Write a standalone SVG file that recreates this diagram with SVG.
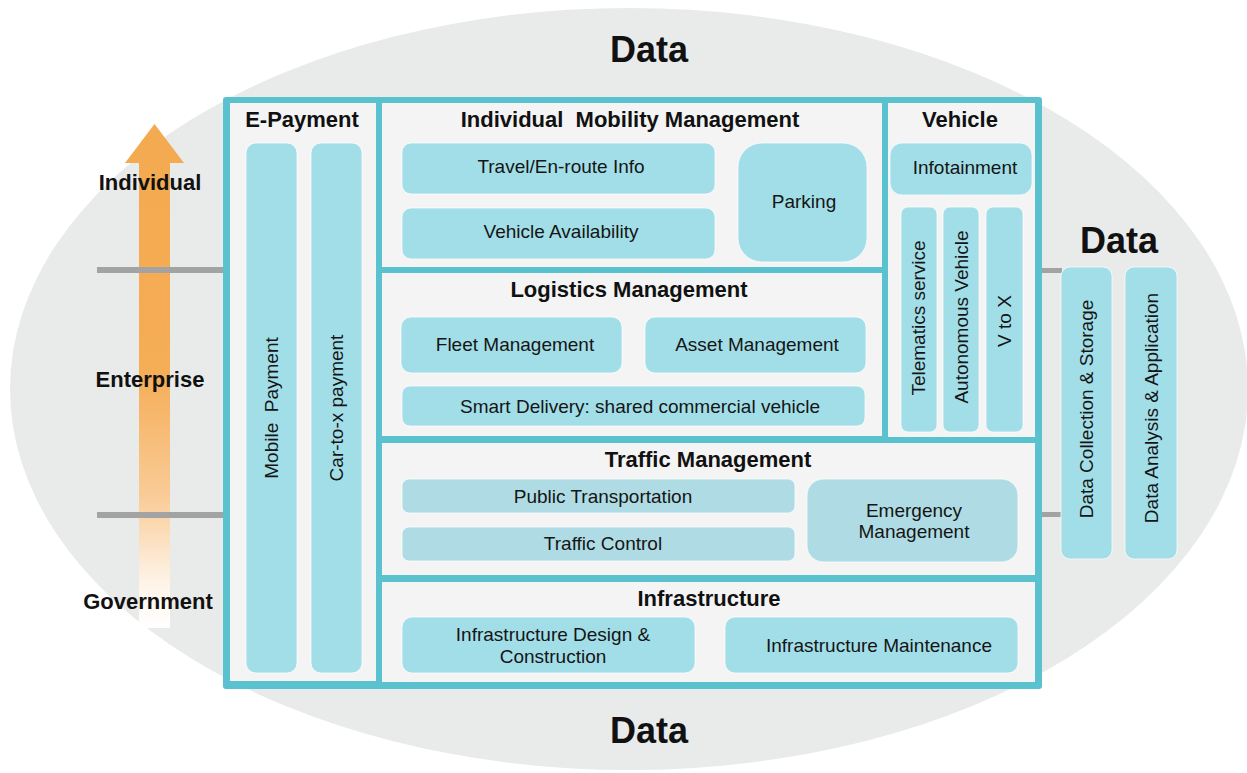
<svg xmlns="http://www.w3.org/2000/svg" width="1247" height="773" viewBox="0 0 1247 773">
<defs>
<linearGradient id="shaftGrad" x1="0" y1="162" x2="0" y2="628" gradientUnits="userSpaceOnUse">
<stop offset="0" stop-color="#f4aa50"/>
<stop offset="0.45" stop-color="#f5ad56"/>
<stop offset="0.72" stop-color="#f9cc98"/>
<stop offset="0.9" stop-color="#fef3e7"/>
<stop offset="1" stop-color="#ffffff"/>
</linearGradient>
<style>
.panel{fill:#f4f4f4;}
.box{fill:#a2dee8;stroke:#ffffff;stroke-width:1;stroke-opacity:0.7;}
.tbox{fill:#afdce4;stroke:#ffffff;stroke-width:1;stroke-opacity:0.7;}
.t{font-family:"Liberation Sans",Arial,sans-serif;font-size:19px;fill:#151515;text-anchor:middle;white-space:pre;}
.h{font-family:"Liberation Sans",Arial,sans-serif;font-size:22px;font-weight:bold;fill:#111111;text-anchor:middle;white-space:pre;}
.big{font-family:"Liberation Sans",Arial,sans-serif;font-size:36px;font-weight:bold;fill:#111111;text-anchor:middle;}
.lvl{fill:#a3a3a3;}
</style>
</defs>
<rect x="0" y="0" width="1247" height="773" fill="#ffffff"/>
<ellipse cx="629" cy="389" rx="619" ry="381" fill="#e9eaea"/>

<g id="arrow">
<rect x="139" y="162" width="31" height="466" fill="url(#shaftGrad)"/>
<polygon points="125,163 154.5,124 184,163" fill="#f4aa50"/>
</g>

<g id="connectors">
<rect class="lvl" x="97" y="267" width="127" height="6"/>
<rect class="lvl" x="97" y="512" width="127" height="6"/>
<rect class="lvl" x="1040" y="268" width="22" height="5"/>
<rect class="lvl" x="1040" y="512" width="22" height="5"/>
</g>

<g id="levels">
<text class="h" x="150" y="190">Individual</text>
<text class="h" x="150" y="387">Enterprise</text>
<text class="h" x="148" y="609">Government</text>
</g>

<g id="data-labels">
<text class="big" x="649" y="62">Data</text>
<text class="big" x="1119" y="253">Data</text>
<text class="big" x="649" y="743">Data</text>
</g>

<g id="frame">
<rect x="223" y="97" width="819" height="592" rx="3" fill="#5ac1cf"/>
</g>

<g id="e-payment">
<rect class="panel" x="230" y="103" width="146" height="578"/>
<text class="h" x="302" y="127">E-Payment</text>
<rect class="box" x="246" y="143" width="51" height="530" rx="10"/>
<rect class="box" x="311" y="143" width="51" height="530" rx="10"/>
<text class="t" transform="translate(271,408) rotate(-90)" dy="0.35em" xml:space="preserve">Mobile  Payment</text>
<text class="t" transform="translate(336,408) rotate(-90)" dy="0.35em">Car-to-x payment</text>
</g>

<g id="individual-mobility">
<rect class="panel" x="382" y="103" width="500" height="164"/>
<text class="h" x="630" y="127" xml:space="preserve">Individual  Mobility Management</text>
<rect class="box" x="402" y="143" width="313" height="51" rx="9"/>
<text class="t" x="561" y="173">Travel/En-route Info</text>
<rect class="box" x="402" y="208" width="313" height="51" rx="9"/>
<text class="t" x="561" y="238">Vehicle Availability</text>
<rect class="box" x="738" y="143" width="129" height="119" rx="24"/>
<text class="t" x="804" y="208">Parking</text>
</g>

<g id="logistics">
<rect class="panel" x="382" y="273" width="500" height="163"/>
<text class="h" x="629" y="297">Logistics Management</text>
<rect class="box" x="401" y="317" width="221" height="56" rx="10"/>
<text class="t" x="515" y="351">Fleet Management</text>
<rect class="box" x="645" y="317" width="221" height="56" rx="10"/>
<text class="t" x="757" y="351">Asset Management</text>
<rect class="box" x="402" y="386" width="463" height="40" rx="8"/>
<text class="t" x="640" y="413">Smart Delivery: shared commercial vehicle</text>
</g>

<g id="vehicle">
<rect class="panel" x="888" y="103" width="147" height="334"/>
<text class="h" x="960" y="127">Vehicle</text>
<rect class="box" x="890" y="143" width="142" height="52" rx="12"/>
<text class="t" x="965" y="174">Infotainment</text>
<rect class="box" x="901" y="207" width="36" height="225" rx="7"/>
<rect class="box" x="943" y="207" width="36" height="225" rx="7"/>
<rect class="box" x="986" y="207" width="37" height="225" rx="7"/>
<text class="t" transform="translate(918,318) rotate(-90)" dy="0.35em">Telematics service</text>
<text class="t" transform="translate(961,317) rotate(-90)" dy="0.35em">Autonomous Vehicle</text>
<text class="t" transform="translate(1004,321) rotate(-90)" dy="0.35em">V to X</text>
</g>

<g id="traffic">
<rect class="panel" x="382" y="443" width="653" height="132"/>
<text class="h" x="708" y="467">Traffic Management</text>
<rect class="tbox" x="402" y="479" width="393" height="34" rx="7"/>
<text class="t" x="603" y="503">Public Transportation</text>
<rect class="tbox" x="402" y="527" width="393" height="34" rx="7"/>
<text class="t" x="603" y="550">Traffic Control</text>
<rect class="tbox" x="807" y="479" width="211" height="83" rx="16"/>
<text class="t" x="914" y="517">Emergency</text>
<text class="t" x="914" y="538">Management</text>
</g>

<g id="infrastructure">
<rect class="panel" x="382" y="582" width="653" height="100"/>
<text class="h" x="709" y="606">Infrastructure</text>
<rect class="box" x="402" y="617" width="293" height="56" rx="10"/>
<text class="t" x="553" y="641">Infrastructure Design &amp;</text>
<text class="t" x="553" y="663">Construction</text>
<rect class="box" x="725" y="617" width="293" height="56" rx="10"/>
<text class="t" x="879" y="652">Infrastructure Maintenance</text>
</g>

<g id="data">
<rect class="box" x="1061" y="267" width="51" height="292" rx="9"/>
<rect class="box" x="1125" y="267" width="52" height="292" rx="9"/>
<text class="t" transform="translate(1086,409) rotate(-90)" dy="0.35em">Data Collection &amp; Storage</text>
<text class="t" transform="translate(1151,408) rotate(-90)" dy="0.35em">Data Analysis &amp; Application</text>
</g>
</svg>
